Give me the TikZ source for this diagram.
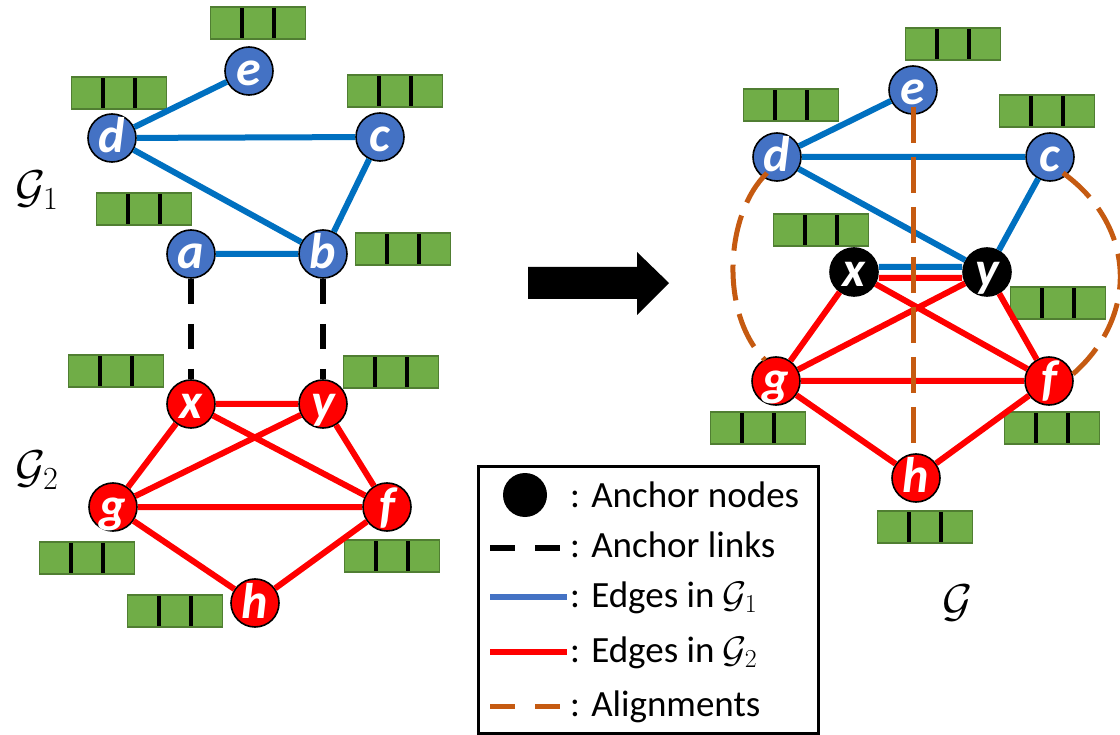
\documentclass[tikz,border=0pt]{standalone}
\usepackage{fix-cm}
\usepackage{fontspec}
\setmainfont{Carlito}
\definecolor{nodeblue}{HTML}{4472C4}
\definecolor{edgeblue}{HTML}{0070C0}
\definecolor{edgered}{HTML}{FF0000}
\definecolor{featgreen}{HTML}{70AD47}
\definecolor{featline}{HTML}{507E32}
\definecolor{alignorange}{HTML}{C55A11}
\begin{document}
\begin{tikzpicture}[x=1pt,y=-1pt,
  gnode/.style={circle,draw=black,line width=1.6pt,minimum size=48pt,inner sep=0pt,text=white,
    text height=30pt,text depth=0pt,font=\fontsize{50}{50}\selectfont\bfseries\itshape},
  node1/.style={gnode,fill=nodeblue},
  node2/.style={gnode,fill=edgered},
  anchornode/.style={gnode,fill=black},
  feat/.style={draw=featline,fill=featgreen,line width=1.5pt,minimum width=95pt,minimum height=32pt,inner sep=0pt,
    path picture={\draw[black,line width=4.5pt]
      ([xshift=-16pt]path picture bounding box.north) -- ([xshift=-16pt]path picture bounding box.south)
      ([xshift=16pt]path picture bounding box.north) -- ([xshift=16pt]path picture bounding box.south);}},
  edge1/.style={edgeblue,line width=6pt},
  edge2/.style={edgered,line width=6pt},
  anchorlink/.style={black,line width=6pt,dash pattern=on 25pt off 20pt},
  alignlink/.style={alignorange,line width=5pt,dash pattern=on 36pt off 14pt},
  glabel/.style={font=\fontsize{46}{46}\selectfont},
  legtext/.style={anchor=base west,inner sep=0pt,font=\fontsize{37}{37}\selectfont}]
\useasboundingbox (0,0) rectangle (1120,735);
% G1 and G2 before alignment
\node[feat] (fle) at (258,23) {};
\node[feat] (fld) at (119,93) {};
\node[feat] (flc) at (395,91) {};
\node[feat] (fla) at (144,209) {};
\node[feat] (flb) at (403,249) {};
\node[feat] (flx) at (116,371) {};
\node[feat] (fly) at (391,372) {};
\node[feat] (flg) at (87,558) {};
\node[feat] (flf) at (392,556) {};
\node[feat] (flh) at (175,611) {};
\node[node1] (le) at (249,71) {e};
\node[node1] (ld) at (112,138) {d};
\node[node1] (lc) at (380,137) {c};
\node[node1] (la) at (191,254) {a};
\node[node1] (lb) at (323,254) {b};
\node[node2] (lx) at (191,404) {x};
\node[node2] (ly) at (323,404) {y};
\node[node2] (lg) at (113,507) {g};
\node[node2] (lf) at (387,507) {f};
\node[node2] (lh) at (255,603) {h};
\draw[edge1] (ld) -- (le) (ld) -- (lc) (ld) -- (lb) (lc) -- (lb) (la) -- (lb);
\draw[edge2] (lx) -- (ly) (lx) -- (lg) (lx) -- (lf) (ly) -- (lg) (ly) -- (lf)
  (lg) -- (lf) (lg) -- (lh) (lf) -- (lh);
\draw[anchorlink] (la) -- (lx);
\draw[anchorlink] (lb) -- (ly);
\node[glabel] (g1) at (37,190) {$\mathcal{G}_1$};
\node[glabel] (g2) at (37,470) {$\mathcal{G}_2$};
% arrow
\fill (528,267) -- (637,267) -- (637,252) -- (669,283) -- (637,315) -- (637,299) -- (528,299) -- cycle;
% aligned graph
\node[feat] (fre) at (953,44) {};
\node[feat] (frd) at (791,105) {};
\node[feat] (frc) at (1047,111) {};
\node[feat] (frx) at (821,230) {};
\node[feat] (fry) at (1058,303) {};
\node[feat] (frg) at (758,428) {};
\node[feat] (frf) at (1052,428) {};
\node[feat] (frh) at (925,527) {};
\node[node1] (re) at (913,90) {e};
\node[node1] (rd) at (777,157) {d};
\node[node1] (rc) at (1050,157) {c};
\node[anchornode] (rx) at (854,272) {x};
\node[anchornode] (ry) at (987,272) {y};
\node[node2] (rg) at (776,381) {g};
\node[node2] (rf) at (1049,381) {f};
\node[node2] (rh) at (916,478) {h};
\draw[edge1] (rd) -- (re) (rd) -- (rc) (rd) -- (ry) (rc) -- (ry)
  ([yshift=5pt]rx.east) -- ([yshift=5pt]ry.west);
\draw[edge2] ([yshift=-6pt]rx.east) -- ([yshift=-6pt]ry.west) (rx) -- (rg) (rx) -- (rf)
  (ry) -- (rg) (ry) -- (rf) (rg) -- (rf) (rg) -- (rh) (rf) -- (rh);
\draw[alignlink] ([yshift=-17pt]re.center) -- (re |- rh.north);
\draw[alignlink] ([shift={(-10pt,-16pt)}]rd.center) .. controls (724,215) and (720,315) .. ([shift={(-11pt,21pt)}]rg.center);
\draw[alignlink] ([shift={(13pt,-16pt)}]rc.center) .. controls (1135,225) and (1140,315) .. ([shift={(24pt,7pt)}]rf.center);
\node[glabel] (g) at (958,603) {$\mathcal{G}$};
% legend
\draw[line width=3pt] (478,466) rectangle (818,733);
\node[circle,fill=black,minimum size=44pt,inner sep=0pt] (legnode) at (525,495) {};
\node[legtext] (leg1) at (570,507) {: Anchor nodes};
\coordinate (lk1) at (490,548);
\coordinate (lk2) at (561,548);
\draw[anchorlink] (lk1) -- (lk2);
\node[legtext] (leg2) at (570,557) {: Anchor links};
\coordinate (lb1) at (490,597);
\coordinate (lb2) at (567,597);
\draw[nodeblue,line width=6pt] (lb1) -- (lb2);
\node[legtext] (leg3) at (570,607) {: Edges in $\mathcal{G}_1$};
\coordinate (lr1) at (490,652);
\coordinate (lr2) at (567,652);
\draw[edge2] (lr1) -- (lr2);
\node[legtext] (leg4) at (570,662) {: Edges in $\mathcal{G}_2$};
\coordinate (lo1) at (490,706);
\coordinate (lo2) at (563,706);
\draw[alignlink,dash pattern=on 25pt off 20pt] (lo1) -- (lo2);
\node[legtext] (leg5) at (570,716) {: Alignments};
\end{tikzpicture}
\end{document}
